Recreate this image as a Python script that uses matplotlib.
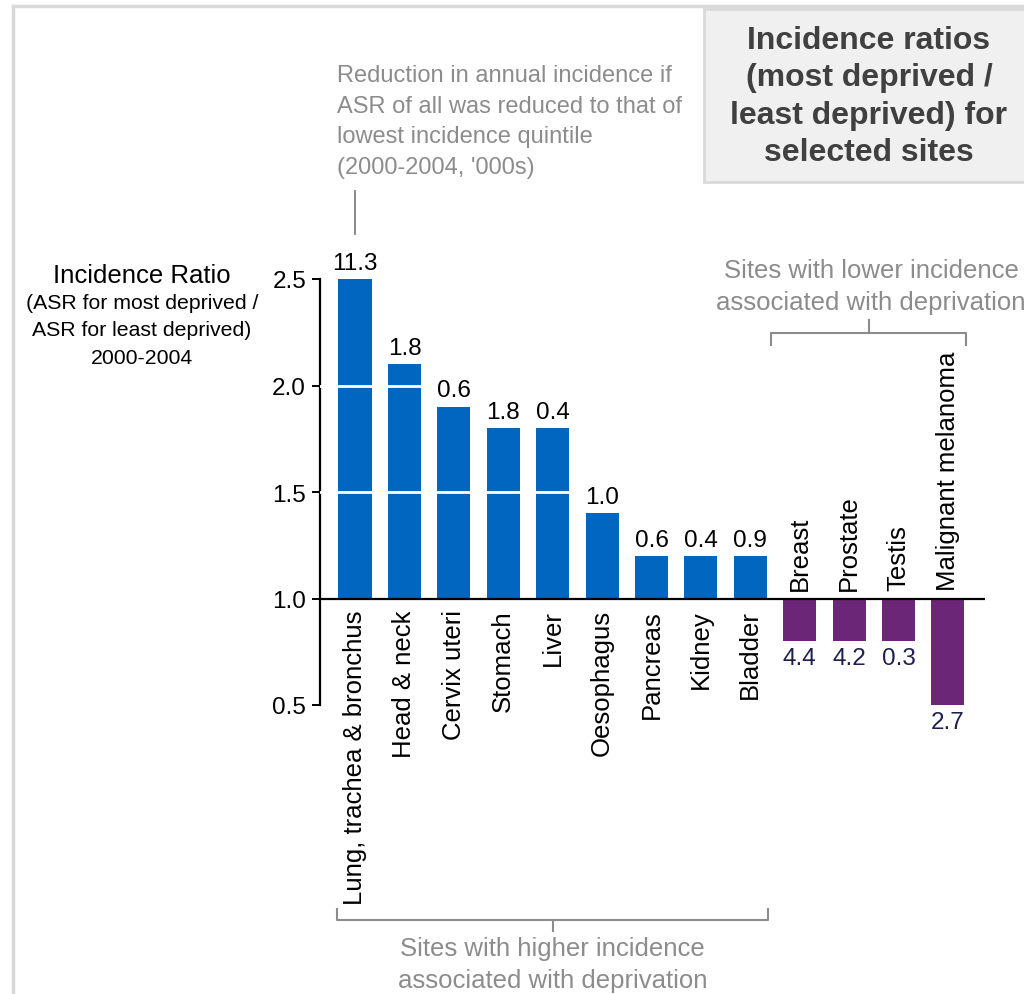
import matplotlib
matplotlib.use('Agg')
import matplotlib.pyplot as plt
from matplotlib.patches import Rectangle

plt.rcParams['font.family'] = ['Liberation Sans', 'DejaVu Sans']

# Sites and their incidence ratios (most deprived / least deprived)
higher_sites = ['Lung, trachea & bronchus', 'Head & neck', 'Cervix uteri', 'Stomach',
                'Liver', 'Oesophagus', 'Pancreas', 'Kidney', 'Bladder']
higher_ratio = [2.5, 2.1, 1.9, 1.8, 1.8, 1.4, 1.2, 1.2, 1.2]
higher_reduction = ['11.3', '1.8', '0.6', '1.8', '0.4', '1.0', '0.6', '0.4', '0.9']

lower_sites = ['Breast', 'Prostate', 'Testis', 'Malignant melanoma']
lower_ratio = [0.8, 0.8, 0.8, 0.5]
lower_reduction = ['4.4', '4.2', '0.3', '2.7']

BLUE = '#0066c0'
PURPLE = '#6c2677'
NAVY = '#1f1f4f'
GREY = '#8c8c8c'
W, H = 1024, 995


def px(x, y):
    """Pixel position (from top-left) to figure fraction."""
    return x / W, 1 - y / H


fig = plt.figure(figsize=(W / 100, H / 100), dpi=100)

# outer frame lines
fig.add_artist(plt.Line2D([13 / W, 13 / W], [0, 1 - 7 / H], color='#d9d9d9', lw=2.5))
fig.add_artist(plt.Line2D([13 / W, 1], [1 - 7 / H, 1 - 7 / H], color='#d9d9d9', lw=2.5))

# axes: left spine at x=320px, y range 0.5 (706px) .. 2.5 (280px)
ax = fig.add_axes([320 / W, (H - 706) / H, (985 - 320) / W, 426 / H])
ax.set_ylim(0.5, 2.5)
ax.set_xlim(-0.709, 12.75)
ax.patch.set_alpha(0)

n_hi = len(higher_sites)
x_hi = list(range(n_hi))
x_lo = list(range(n_hi, n_hi + len(lower_sites)))
bw = 0.67

ax.bar(x_hi, [r - 1 for r in higher_ratio], bottom=1.0, width=bw, color=BLUE, zorder=2)
ax.bar(x_lo, [r - 1 for r in lower_ratio], bottom=1.0, width=bw, color=PURPLE, zorder=2)

# white gridlines cutting through the bars
for g in [1.5, 2.0]:
    ax.axhline(g, color='white', lw=2, zorder=3)
ax.axhline(1.0, color='black', lw=1.6, zorder=4)

for spine in ['top', 'right', 'bottom']:
    ax.spines[spine].set_visible(False)
ax.spines['left'].set_linewidth(1.6)
ax.set_xticks([])
ax.set_yticks([0.5, 1.0, 1.5, 2.0, 2.5])
ax.set_yticklabels(['0.5', '1.0', '1.5', '2.0', '2.5'])
ax.tick_params(axis='y', length=6, width=1.4, labelsize=17.5, pad=4)

# value labels and site names
for x, r, v, name in zip(x_hi, higher_ratio, higher_reduction, higher_sites):
    ax.text(x, r + 0.025, v, ha='center', va='bottom', fontsize=17.5, clip_on=False)
    ax.text(x, 0.95, name, ha='center', va='top', rotation=90, fontsize=18.5, clip_on=False)

for x, r, v, name in zip(x_lo, lower_ratio, lower_reduction, lower_sites):
    ax.text(x, r - 0.03, v, ha='center', va='top', fontsize=17.5, color=NAVY, clip_on=False)
    ax.text(x, 1.04, name, ha='center', va='bottom', rotation=90, fontsize=18.5, clip_on=False)

# y-axis title
fig.text(*px(142, 276), 'Incidence Ratio', ha='center', va='center', fontsize=18.5)
fig.text(*px(142, 331), '(ASR for most deprived /\nASR for least deprived)\n2000-2004',
         ha='center', va='center', fontsize=15.3, linespacing=1.55)

# note about the bar labels
fig.text(*px(337, 122),
         "Reduction in annual incidence if\nASR of all was reduced to that of\n"
         "lowest incidence quintile\n(2000-2004, '000s)",
         ha='left', va='center', fontsize=17, color=GREY, linespacing=1.5)
fig.add_artist(plt.Line2D([355 / W] * 2, [1 - 192 / H, 1 - 235 / H], color='#7f7f7f', lw=1.3))

# title box
fig.add_artist(Rectangle(px(704, 183), (1030 - 704) / W, (183 - 10) / H,
                         facecolor='#f0f0f0', edgecolor='#d9d9d9', lw=2))
fig.text(*px(869, 97), 'Incidence ratios\n(most deprived /\nleast deprived) for\nselected sites',
         ha='center', va='center', fontsize=23, fontweight='bold', color='#404040',
         linespacing=1.32)


def bracket(x0, x1, y, tip, mid_tip):
    """Square bracket with end ticks at `tip` and a centre tick at `mid_tip` (pixels)."""
    kw = dict(color='#8c8c8c', lw=1.5)
    xm = (x0 + x1) / 2
    for xs, ys in [([x0, x0, x1, x1], [tip, y, y, tip]), ([xm, xm], [y, mid_tip])]:
        fig.add_artist(plt.Line2D([a / W for a in xs], [1 - b / H for b in ys], **kw))
    return xm


# group for lower incidence sites
xm = bracket(771, 966, 334, 346, 321)
fig.text(*px(871, 287), 'Sites with lower incidence\nassociated with deprivation',
         ha='center', va='center', fontsize=18.5, color=GREY, linespacing=1.38)

# group for higher incidence sites
xm = bracket(337, 768, 921, 910, 932)
fig.text(*px(xm, 965), 'Sites with higher incidence\nassociated with deprivation',
         ha='center', va='center', fontsize=18.5, color=GREY, linespacing=1.38)

fig.savefig('out.png', dpi=100)
